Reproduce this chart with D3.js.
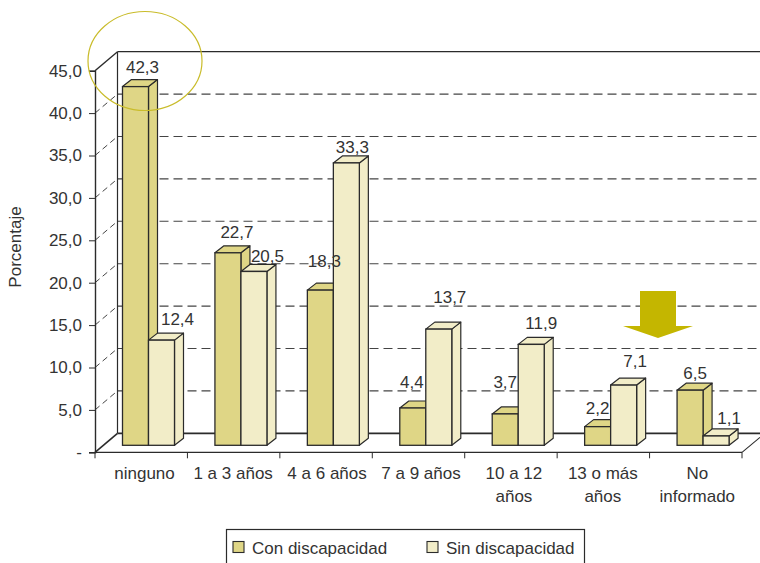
<!DOCTYPE html>
<html><head><meta charset="utf-8">
<script src="https://cdnjs.cloudflare.com/ajax/libs/d3/7.8.5/d3.min.js"></script>
<style>html,body{margin:0;padding:0;background:#fff}svg{display:block}text{font-family:"Liberation Sans",Arial,sans-serif;fill:#333}</style>
</head><body><div id="chart"></div>
<script>
const categories = ["ninguno","1 a 3 años","4 a 6 años","7 a 9 años","10 a 12 años","13 o más años","No informado"];
const conDiscapacidad = [42.3,22.7,18.3,4.4,3.7,2.2,6.5];
const sinDiscapacidad = [12.4,20.5,33.3,13.7,11.9,7.1,1.1];
const seriesNames = ["Con discapacidad","Sin discapacidad"];
const yTicks = [0,5,10,15,20,25,30,35,40,45];

const W=760,H=563,FS="17px";
const colors=["#dfd686","#f2edc8"];
const stroke="#2b2b2b";
const depthX=22.5, depthY=19, barDX=9, barDY=7, floorInset=7;
const svg=d3.select("#chart").append("svg").attr("width",W).attr("height",H);
const y=d3.scaleLinear().domain([0,45]).range([452.3,70.7]);
const x=d3.scaleBand().domain(categories).range([95,742]);
const inner=d3.scaleBand().domain(seriesNames).range([27.5,79.5]);
const fmt=v=>v===0?"-":d3.format(".1f")(v).replace(".",",");

// Walls
const g=svg.append("g");
const wallX=95+depthX, right=W;
g.selectAll("line.back").data(yTicks.filter(t=>t>0&&t<45)).join("line")
 .attr("x1",wallX).attr("x2",right).attr("y1",d=>y(d)-depthY).attr("y2",d=>y(d)-depthY)
 .attr("stroke","#444").attr("stroke-width",1.1).attr("stroke-dasharray","9,5");
g.selectAll("line.side").data(yTicks.filter(t=>t>0&&t<45)).join("line").attr("class","side")
 .attr("x1",95).attr("x2",wallX).attr("y1",d=>y(d)).attr("y2",d=>y(d)-depthY)
 .attr("stroke","#444").attr("stroke-width",1).attr("stroke-dasharray","6,4");
const solid=(a,b,c,d,w=1.4)=>g.append("line").attr("x1",a).attr("y1",b).attr("x2",c).attr("y2",d).attr("stroke",stroke).attr("stroke-width",w);
solid(wallX,y(45)-depthY,right,y(45)-depthY,1.3);
solid(wallX,y(45)-depthY,wallX,y(0)-depthY,1.2);
solid(wallX,y(0)-depthY,right,y(0)-depthY,1.8);
solid(95,y(45),wallX,y(45)-depthY,1.4);
solid(95,y(0),wallX,y(0)-depthY,1.6);
solid(x.range()[1],y(0),right,y(0)-15,1.1);

// Axes
const yAxis=d3.axisLeft(y).tickValues(yTicks).tickFormat(fmt).tickSize(6).tickPadding(7);
const ay=svg.append("g").attr("transform","translate(95,0)").call(yAxis);
ay.selectAll("text").style("font-size",FS);
ay.select(".domain").attr("stroke",stroke).attr("stroke-width",1.4);
ay.selectAll("line").attr("stroke",stroke);
const xTickVals=d3.range(categories.length+1);
const xPos=d3.scaleLinear().domain([0,categories.length]).range(x.range());
const xg=svg.append("g");
xg.append("line").attr("x1",95).attr("x2",742).attr("y1",y(0)).attr("y2",y(0)).attr("stroke",stroke).attr("stroke-width",1.2);
xg.selectAll("line.t").data(xTickVals).join("line").attr("class","t")
 .attr("x1",xPos).attr("x2",xPos).attr("y1",y(0)).attr("y2",y(0)+6).attr("stroke",stroke);
const catLines={"10 a 12 años":["10 a 12","años"],"13 o más años":["13 o más","años"],"No informado":["No","informado"]};
const catNudge=[3.3,-0.5,1,2.5,3,-0.5,1.5];
categories.forEach((c,ci)=>{
  const cx=x(c)+x.bandwidth()/2+catNudge[ci];
  const t=svg.append("text").attr("y",479).attr("text-anchor","middle").style("font-size",FS);
  (catLines[c]||[c]).forEach((s,i)=>t.append("tspan").attr("x",cx).attr("dy",i?23:0).text(s));
});
svg.append("text").attr("transform","translate(21,247) rotate(-90)").attr("text-anchor","middle").style("font-size",FS).text("Porcentaje");

// 3D bars
const rows=[];
categories.forEach((c,i)=>{
  [conDiscapacidad,sinDiscapacidad].forEach((vals,s)=>rows.push({c,i,s,v:vals[i]}));
});
const base=y(0)-floorInset;
const h=v=>y(0)-y(v);
const bw=inner.bandwidth();
const bars=svg.append("g").selectAll("g").data(rows).join("g")
 .attr("transform",d=>`translate(${x(d.c)+inner(seriesNames[d.s])},${base-h(d.v)})`);
bars.append("path").attr("d",d=>`M${bw},0l${barDX},${-barDY}v${h(d.v)}l${-barDX},${barDY}z`)
 .attr("fill",d=>colors[d.s]).attr("stroke",stroke).attr("stroke-width",1.2).attr("stroke-linejoin","round");
bars.append("path").attr("d",`M0,0l${barDX},${-barDY}h${bw}l${-barDX},${barDY}z`)
 .attr("fill",d=>colors[d.s]).attr("stroke",stroke).attr("stroke-width",1.2).attr("stroke-linejoin","round");
bars.append("rect").attr("width",bw).attr("height",d=>h(d.v))
 .attr("fill",d=>colors[d.s]).attr("stroke",stroke).attr("stroke-width",1.3);

// Value labels, hand-placed in the original
const nudgeX=[[7,9,4,-1,0,0,5],[16,13.5,6,11,10,11.5,13]];
const nudgeY=[[-14,-15,-23,-20,-26,-13,-11],[-15,-9,-10,-26,-15,-18,-12]];
svg.append("g").selectAll("text").data(rows).join("text")
 .attr("x",d=>x(d.c)+inner(seriesNames[d.s])+bw/2+nudgeX[d.s][d.i])
 .attr("y",d=>base-h(d.v)+nudgeY[d.s][d.i])
 .attr("text-anchor","middle").style("font-size",FS).text(d=>fmt(d.v));

// Annotations
svg.append("path").attr("d","M640,291H676V326H693L658,338L623,326H640Z").attr("fill","#c4b600");
svg.append("ellipse").attr("cx",145).attr("cy",61).attr("rx",57).attr("ry",49.5).attr("fill","none").attr("stroke","#c9bc2a").attr("stroke-width",1.2);

// Legend
const lg=svg.append("g");
lg.append("rect").attr("x",226.5).attr("y",529.5).attr("width",358).attr("height",40).attr("fill","#fff").attr("stroke",stroke).attr("stroke-width",1.2);
const lgX=d3.scaleOrdinal().domain(seriesNames).range([233,427]);
seriesNames.forEach((n,i)=>{
  lg.append("rect").attr("x",lgX(n)).attr("y",541.5).attr("width",11).attr("height",11).attr("fill",colors[i]).attr("stroke",stroke).attr("stroke-width",1.1);
  lg.append("text").attr("x",lgX(n)+19).attr("y",554).style("font-size",FS).text(n);
});
</script></body></html>
